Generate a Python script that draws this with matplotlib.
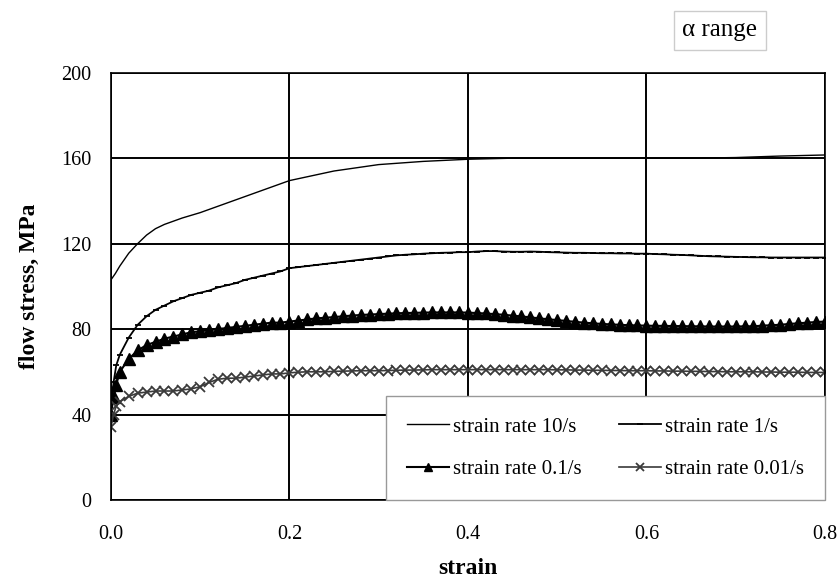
import numpy as np
import matplotlib
matplotlib.use("Agg")
import matplotlib.pyplot as plt

plt.rcParams['font.family'] = ['Liberation Serif', 'DejaVu Serif']

# strain rate 10/s (plain line)
strain_10 = [0, 0.005, 0.01, 0.02, 0.03, 0.04, 0.05, 0.06, 0.08, 0.1, 0.12, 0.15,
             0.2, 0.25, 0.3, 0.35, 0.4, 0.45, 0.5, 0.55, 0.6, 0.65, 0.7, 0.75, 0.8]
stress_10 = [103, 106, 109.5, 115.5, 120, 124, 127, 129, 132, 134.5, 137.5, 142,
             149.5, 154, 157, 158.5, 159.5, 160, 160, 160, 160, 160, 160.3, 161, 161.5]

# common strain grid for the marker series
strain = [0, 0.003, 0.006] + [round(0.01 * i, 2) for i in range(1, 81)]

stress_1 = [40, 55, 63,
            68, 76, 82, 86, 89, 91, 93, 94.5, 96, 97,
            98, 99.5, 100.5, 101.5, 103, 104, 105, 106, 107, 108.5,
            109, 109.5, 110, 110.5, 111, 111.5, 112, 112.5, 113, 113.5,
            114, 114.5, 114.8, 115, 115.3, 115.5, 115.7, 115.8, 116, 116,
            116.3, 116.5, 116.5, 116.3, 116.2, 116.2, 116.3, 116.2, 116, 115.9,
            115.8, 115.7, 115.7, 115.6, 115.5, 115.5, 115.4, 115.4, 115.3, 115.3,
            115.1, 115, 114.8, 114.7, 114.5, 114.3, 114.1, 114, 113.9, 113.8,
            113.7, 113.6, 113.6, 113.5, 113.5, 113.5, 113.5, 113.5, 113.5, 113.5]

stress_01 = [40, 48, 54,
             60, 66, 70, 72.5, 74, 75.5, 76.5, 77.5, 78.5, 79,
             79.5, 80, 80.5, 81, 81.5, 82, 82.5, 83, 83, 83.5,
             84, 84.5, 85, 85.3, 85.6, 86, 86.3, 86.6, 86.8, 87,
             87.2, 87.4, 87.5, 87.6, 87.7, 87.8, 87.8, 87.8, 87.8, 87.7,
             87.5, 87.3, 87, 86.7, 86.3, 85.9, 85.5, 85, 84.6, 84.2,
             83.8, 83.4, 83, 82.7, 82.4, 82.2, 82, 81.8, 81.7, 81.6,
             81.5, 81.5, 81.4, 81.4, 81.3, 81.3, 81.2, 81.2, 81.2, 81.2,
             81.3, 81.3, 81.6, 81.8, 82, 82.4, 82.7, 83, 83.3, 83.5]

stress_001 = [34, 40, 44,
              46, 48.5, 50, 50.5, 51, 51, 51, 51.5, 52, 53,
              55, 56.5, 57, 57, 57.5, 58, 58.5, 59, 59, 59.5,
              59.8, 60, 60, 60, 60.2, 60.3, 60.4, 60.5, 60.5, 60.5,
              60.6, 60.7, 60.8, 60.8, 60.9, 61, 61, 61, 61, 61,
              61, 61, 61, 61, 61, 61, 61, 61, 61, 60.9,
              60.9, 60.8, 60.8, 60.7, 60.7, 60.6, 60.6, 60.5, 60.5, 60.5,
              60.4, 60.4, 60.3, 60.3, 60.2, 60.2, 60.1, 60.1, 60, 60,
              60, 60, 59.9, 59.9, 59.8, 59.8, 59.8, 59.7, 59.7, 59.7]

x_ticks = [0.0, 0.2, 0.4, 0.6, 0.8]
y_ticks = [0, 40, 80, 120, 160, 200]

fig = plt.figure(figsize=(8.4, 5.82), dpi=100)
ax = fig.add_axes([0.132, 0.141, 0.850, 0.734])

l10, = ax.plot(strain_10, stress_10, color='black', lw=1.0, label='strain rate 10/s')
l1, = ax.plot(strain, stress_1, color='black', lw=1.3, marker='_', markersize=5,
              markeredgewidth=1.3, label='strain rate 1/s')
l01, = ax.plot(strain, stress_01, color='black', lw=1.5, marker='^', markersize=8,
               label='strain rate 0.1/s')
l001, = ax.plot(strain, stress_001, color='#3a3a3a', lw=1.2, marker='x', markersize=6.5,
                markeredgewidth=1.3, label='strain rate 0.01/s')

ax.set_xlim(0, 0.8)
ax.set_ylim(0, 200)
ax.set_xticks(x_ticks)
ax.set_xticklabels([f'{v:.1f}' for v in x_ticks])
ax.set_yticks(y_ticks)
ax.grid(True, color='black', lw=1.4)
ax.set_axisbelow(True)
ax.tick_params(axis='x', length=0, labelsize=14.5, pad=18)
ax.tick_params(axis='y', length=0, labelsize=14.5, pad=14)
for s in ax.spines.values():
    s.set_color('black')
    s.set_linewidth(1.2)

ax.set_xlabel('strain', fontsize=17, fontweight='bold', labelpad=10)
ax.set_ylabel('flow stress, MPa', fontsize=17, fontweight='bold', labelpad=15)

# row-wise order: 10/s, 1/s on top; 0.1/s, 0.01/s below
handles = [l10, l01, l1, l001]
leg = ax.legend(handles, [h.get_label() for h in handles],
                ncol=2, loc='lower right', bbox_to_anchor=(1.0, 0.0),
                borderaxespad=0, fontsize=15, frameon=True, fancybox=False,
                edgecolor='#999999', framealpha=1, handlelength=2.0,
                handletextpad=0.2, columnspacing=1.8, labelspacing=1.1,
                borderpad=1.0, markerscale=0.8)
leg.get_frame().set_linewidth(1.0)

fig.text(0.857, 0.948, 'α range', fontsize=18, ha='center', va='center',
         bbox=dict(boxstyle='square,pad=0.35', fc='white', ec='#cccccc', lw=1))

fig.savefig('out.png', dpi=100)
